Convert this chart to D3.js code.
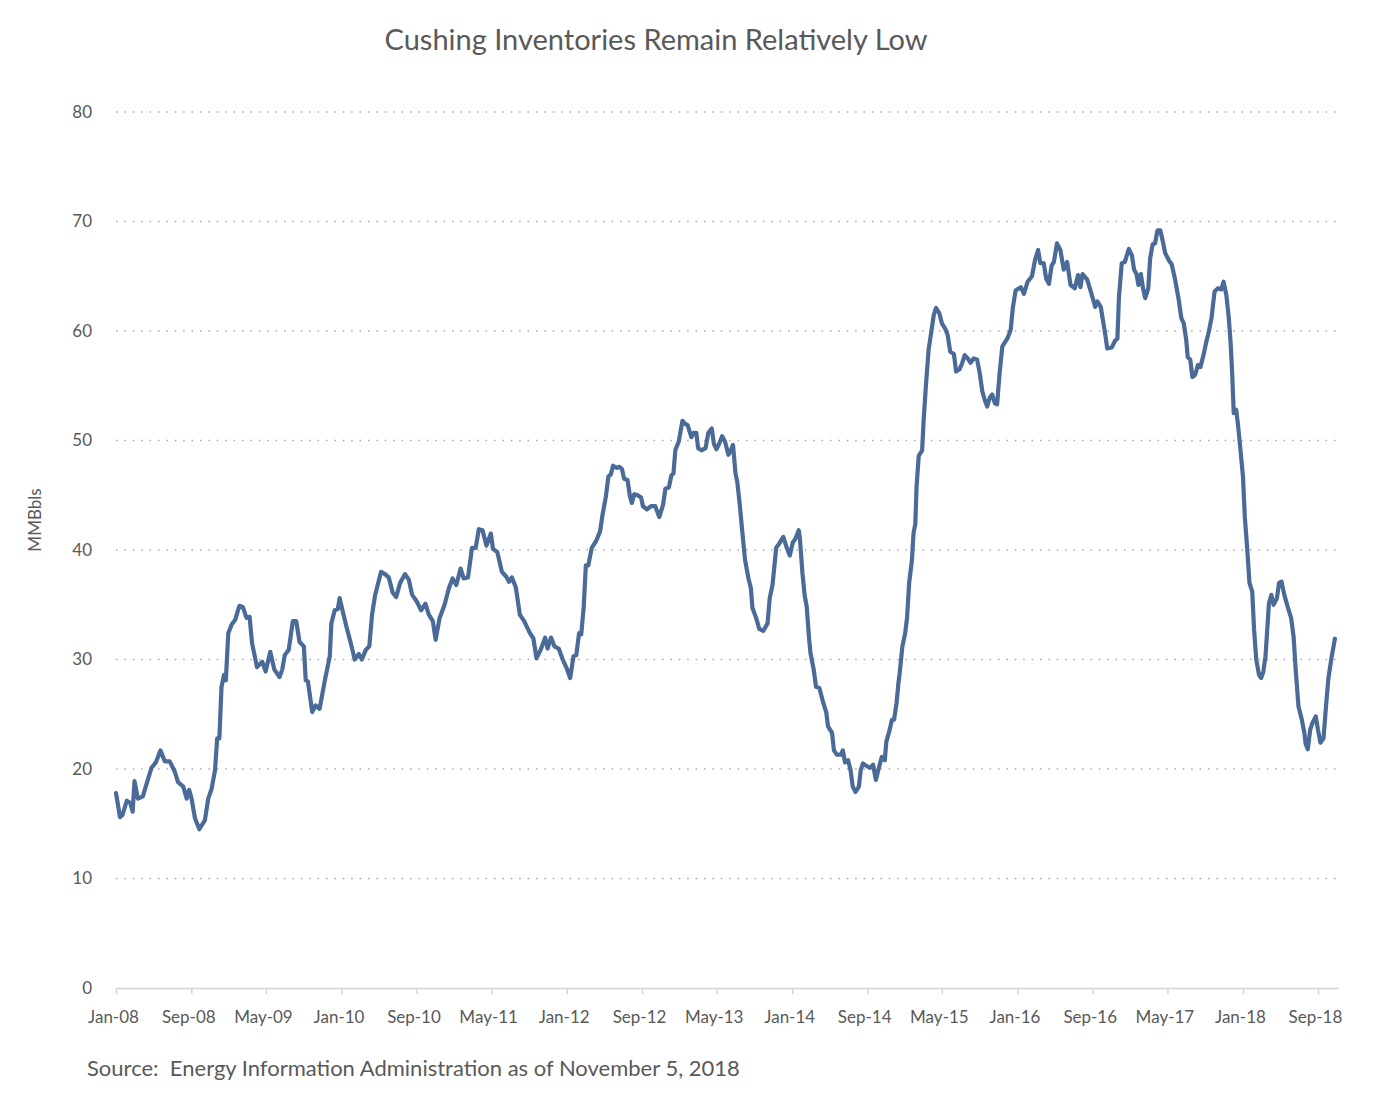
<!DOCTYPE html>
<html>
<head>
<meta charset="utf-8">
<title>Cushing Inventories</title>
<style>
  body { margin: 0; background: #fff; }
  text { font-family: Lato, "Open Sans", sans-serif; fill: #595959; }
  .grid line { stroke: #a8a8a8; stroke-width: 1.5; stroke-dasharray: 1.5,6.9; }
  .x-axis path, .x-axis line { stroke: #d4d4d4; stroke-width: 1.5; }
</style>
<script src="https://d3js.org/d3.v7.min.js"></script>
</head>
<body>
<div id="chart"></div>
<script>
// weekly Cushing crude stocks (MMBbls)
var dates = [
  "2008-01-01","2008-01-14","2008-01-22","2008-02-05","2008-02-16","2008-02-24","2008-03-01","2008-03-12",
  "2008-03-28","2008-04-14","2008-04-25","2008-05-09","2008-05-24","2008-06-07","2008-06-23","2008-07-09",
  "2008-07-20","2008-08-06","2008-08-17","2008-08-25","2008-09-02","2008-09-13","2008-09-27","2008-10-15",
  "2008-10-26","2008-11-06","2008-11-17","2008-11-24","2008-12-01","2008-12-08","2008-12-16","2008-12-22",
  "2008-12-30","2009-01-10","2009-01-21","2009-02-04","2009-02-15","2009-02-27","2009-03-09","2009-03-17",
  "2009-04-02","2009-04-19","2009-04-30","2009-05-15","2009-05-28","2009-06-14","2009-06-23","2009-07-01",
  "2009-07-14","2009-07-27","2009-08-07","2009-08-18","2009-09-01","2009-09-07","2009-09-14","2009-09-28",
  "2009-10-09","2009-10-22","2009-11-08","2009-11-24","2009-11-29","2009-12-10","2009-12-20","2009-12-26",
  "2010-01-04","2010-01-17","2010-01-30","2010-02-13","2010-02-26","2010-03-08","2010-03-21","2010-04-01",
  "2010-04-10","2010-04-20","2010-05-09","2010-05-22","2010-06-03","2010-06-16","2010-06-27","2010-07-10",
  "2010-07-26","2010-08-07","2010-08-18","2010-09-02","2010-09-16","2010-09-30","2010-10-11","2010-10-24",
  "2010-11-02","2010-11-15","2010-12-01","2010-12-15","2010-12-27","2011-01-08","2011-01-22","2011-02-01",
  "2011-02-15","2011-02-28","2011-03-12","2011-03-22","2011-04-03","2011-04-16","2011-04-30","2011-05-07",
  "2011-05-21","2011-06-05","2011-06-18","2011-06-28","2011-07-07","2011-07-20","2011-08-02","2011-08-16",
  "2011-09-02","2011-09-15","2011-09-25","2011-10-10","2011-10-23","2011-10-31","2011-11-11","2011-11-22",
  "2011-12-06","2011-12-19","2012-01-01","2012-01-12","2012-01-23","2012-02-01","2012-02-10","2012-02-17",
  "2012-02-25","2012-03-03","2012-03-11","2012-03-22","2012-04-05","2012-04-18","2012-04-26","2012-05-07",
  "2012-05-15","2012-05-23","2012-05-30","2012-06-11","2012-06-20","2012-06-28","2012-07-05","2012-07-16",
  "2012-07-24","2012-07-30","2012-08-07","2012-08-18","2012-08-29","2012-09-04","2012-09-17","2012-09-30",
  "2012-10-14","2012-10-27","2012-11-08","2012-11-16","2012-11-27","2012-12-05","2012-12-12","2012-12-18",
  "2012-12-29","2013-01-10","2013-01-20","2013-01-27","2013-02-08","2013-02-16","2013-02-24","2013-03-02",
  "2013-03-13","2013-03-26","2013-04-04","2013-04-15","2013-04-22","2013-04-30","2013-05-09","2013-05-19",
  "2013-05-28","2013-06-08","2013-06-16","2013-06-23","2013-07-01","2013-07-07","2013-07-15","2013-07-23",
  "2013-08-01","2013-08-12","2013-08-20","2013-08-25","2013-09-06","2013-09-16","2013-09-29","2013-10-13",
  "2013-10-20","2013-10-29","2013-11-10","2013-11-20","2013-12-03","2013-12-13","2013-12-24","2014-01-03",
  "2014-01-11","2014-01-22","2014-01-26","2014-02-03","2014-02-10","2014-02-17","2014-02-24","2014-03-01",
  "2014-03-12","2014-03-19","2014-03-30","2014-04-11","2014-04-21","2014-04-27","2014-05-10","2014-05-16",
  "2014-05-26","2014-06-07","2014-06-14","2014-06-21","2014-07-01","2014-07-09","2014-07-16","2014-07-25",
  "2014-08-05","2014-08-11","2014-08-18","2014-08-29","2014-09-10","2014-09-20","2014-09-29","2014-10-07",
  "2014-10-18","2014-10-28","2014-11-02","2014-11-13","2014-11-20","2014-11-27","2014-12-05","2014-12-11",
  "2014-12-15","2014-12-24","2015-01-02","2015-01-08","2015-01-15","2015-01-24","2015-01-29","2015-02-04",
  "2015-02-08","2015-02-15","2015-02-26","2015-03-03","2015-03-10","2015-03-19","2015-03-27","2015-04-05",
  "2015-04-12","2015-04-23","2015-05-01","2015-05-12","2015-05-20","2015-05-28","2015-06-09","2015-06-16",
  "2015-06-27","2015-07-05","2015-07-14","2015-07-24","2015-08-02","2015-08-12","2015-08-23","2015-09-01",
  "2015-09-09","2015-09-17","2015-09-25","2015-10-03","2015-10-11","2015-10-20","2015-10-27","2015-11-04",
  "2015-11-13","2015-11-29","2015-12-10","2015-12-17","2015-12-26","2016-01-12","2016-01-22","2016-02-03",
  "2016-02-17","2016-02-27","2016-03-08","2016-03-15","2016-03-26","2016-04-03","2016-04-12","2016-04-21",
  "2016-04-28","2016-05-08","2016-05-19","2016-05-30","2016-06-10","2016-06-21","2016-07-05","2016-07-15",
  "2016-07-23","2016-07-30","2016-08-14","2016-08-28","2016-09-09","2016-09-16","2016-09-27","2016-10-04",
  "2016-10-11","2016-10-18","2016-11-02","2016-11-12","2016-11-20","2016-11-25","2016-12-04","2016-12-14",
  "2016-12-27","2017-01-06","2017-01-13","2017-01-21","2017-01-27","2017-02-04","2017-02-11","2017-02-18",
  "2017-02-28","2017-03-06","2017-03-14","2017-03-22","2017-03-30","2017-04-08","2017-04-16","2017-04-24",
  "2017-05-07","2017-05-15","2017-05-26","2017-06-07","2017-06-15","2017-06-23","2017-07-01","2017-07-06",
  "2017-07-14","2017-07-21","2017-07-30","2017-08-08","2017-08-16","2017-08-26","2017-09-04","2017-09-12",
  "2017-09-21","2017-10-01","2017-10-12","2017-10-23","2017-10-30","2017-11-08","2017-11-16","2017-11-22",
  "2017-11-27","2017-12-02","2017-12-10","2017-12-16","2017-12-24","2018-01-01","2018-01-07","2018-01-15",
  "2018-01-22","2018-01-31","2018-02-06","2018-02-13","2018-02-22","2018-03-01","2018-03-08","2018-03-15",
  "2018-03-22","2018-03-26","2018-04-03","2018-04-10","2018-04-21","2018-04-28","2018-05-06","2018-05-15",
  "2018-05-26","2018-06-06","2018-06-14","2018-06-21","2018-06-30","2018-07-10","2018-07-19","2018-07-23",
  "2018-07-30","2018-08-07","2018-08-14","2018-08-25","2018-09-01","2018-09-09","2018-09-19","2018-09-27",
  "2018-10-05","2018-10-14","2018-10-26"
];
var inventory = [
  17.8,15.6,15.8,17.1,16.9,16.1,18.9,17.3,
  17.5,19.1,20.1,20.6,21.7,20.7,20.7,19.8,
  18.8,18.4,17.3,18.1,17.3,15.5,14.5,15.3,
  17.3,18.2,19.9,22.8,22.8,27.5,28.6,28.1,
  32.4,33.2,33.6,34.9,34.8,33.8,33.9,31.5,
  29.3,29.8,28.9,30.7,29.1,28.4,29.1,30.4,
  30.9,33.5,33.5,31.6,31.2,28.1,28.0,25.2,
  25.8,25.5,28.1,30.3,33.3,34.5,34.6,35.6,
  34.5,33.0,31.6,30.0,30.5,30.0,30.9,31.2,
  34.1,35.9,38.0,37.8,37.5,36.1,35.7,37.0,
  37.8,37.3,35.9,35.3,34.5,35.1,34.1,33.5,
  31.8,33.8,35.0,36.5,37.4,36.8,38.3,37.4,
  37.5,40.2,40.2,41.9,41.8,40.4,41.5,40.1,
  39.8,38.0,37.6,37.1,37.5,36.6,34.1,33.5,
  32.5,31.9,30.1,31.0,32.0,31.0,32.0,31.2,
  31.0,30.0,29.2,28.3,30.3,30.4,32.4,32.3,
  34.8,38.6,38.6,40.2,40.8,41.7,43.2,44.9,
  46.7,46.9,47.7,47.5,47.6,47.4,46.5,46.4,
  44.9,44.3,45.1,45.0,44.8,44.0,43.7,44.0,
  44.0,43.0,44.1,45.6,45.7,46.8,47.0,49.1,
  49.9,51.8,51.5,51.4,50.3,50.7,50.7,49.3,
  49.1,49.3,50.7,51.1,49.7,49.2,49.7,50.4,
  49.9,48.7,49.1,49.6,47.0,46.2,44.1,41.7,
  39.1,37.4,36.5,34.7,33.8,32.8,32.6,33.3,
  35.6,36.8,40.2,40.6,41.2,40.3,39.5,40.7,
  41.0,41.8,41.0,37.9,35.9,34.8,32.1,30.6,
  29.0,27.5,27.4,26.1,25.2,23.9,23.3,21.7,
  21.3,21.3,21.7,20.6,20.8,19.9,18.4,17.9,
  18.4,19.9,20.5,20.3,20.1,20.4,19.0,19.9,
  21.1,20.8,22.5,23.6,24.5,24.5,26.0,27.8,
  28.7,31.2,32.4,33.8,37.0,39.1,41.5,42.4,
  45.8,48.6,49.1,51.9,54.9,58.3,59.8,61.5,
  62.1,61.6,60.7,60.2,59.6,58.1,57.9,56.3,
  56.5,57.0,57.8,57.5,57.1,57.5,57.4,56.1,
  54.5,53.7,53.1,53.9,54.2,53.4,53.3,56.1,
  58.6,59.3,60.1,62.1,63.7,64.0,63.4,64.5,
  65.0,66.5,67.4,66.2,66.2,64.8,64.3,66.0,
  66.3,68.0,67.4,65.6,66.3,64.2,63.9,65.1,
  64.0,65.2,64.7,63.4,62.2,62.7,62.2,61.0,
  59.8,58.4,58.5,59.1,59.3,63.1,66.2,66.3,
  67.5,66.9,65.6,65.2,64.2,65.2,63.9,63.0,
  63.9,66.6,67.9,68.0,69.2,69.2,68.2,67.1,
  66.4,66.1,64.7,62.8,61.2,60.7,59.2,57.6,
  57.4,55.8,56.0,56.9,56.7,57.8,59.0,59.9,
  61.2,63.6,63.9,63.8,64.5,63.3,61.2,58.9,
  56.1,52.5,52.8,51.4,49.1,46.7,43.0,40.0,
  37.0,36.2,32.7,30.0,28.6,28.3,28.9,30.3,
  33.3,35.1,35.9,35.0,35.6,37.0,37.1,35.9,
  34.8,33.8,32.1,29.0,25.7,24.6,23.3,22.3,
  21.8,23.6,24.2,24.8,23.6,22.4,22.8,25.7,
  28.3,30.0,31.9
];

var yTicks = [0, 10, 20, 30, 40, 50, 60, 70, 80];
var xTickDates = ["2008-01-01","2008-09-01","2009-05-01","2010-01-01","2010-09-01","2011-05-01",
  "2012-01-01","2012-09-01","2013-05-01","2014-01-01","2014-09-01","2015-05-01",
  "2016-01-01","2016-09-01","2017-05-01","2018-01-01","2018-09-01"];
var xTickLabels = ["Jan-08","Sep-08","May-09","Jan-10","Sep-10","May-11","Jan-12","Sep-12",
  "May-13","Jan-14","Sep-14","May-15","Jan-16","Sep-16","May-17","Jan-18","Sep-18"];

var chartTitle = "Cushing Inventories Remain Relatively Low";
var yTitle = "MMBbls";
var sourceNote = "Source:  Energy Information Administration as of November 5, 2018";

var width = 1373, height = 1103;
var parse = d3.timeParse("%Y-%m-%d");

var x = d3.scaleTime()
    .domain([parse("2008-01-01"), parse("2018-11-05")])
    .range([116, 1338]);
var y = d3.scaleLinear()
    .domain([0, 80])
    .range([988, 112]);

var svg = d3.select("#chart").append("svg")
    .attr("width", width)
    .attr("height", height);

svg.append("rect").attr("width", width).attr("height", height).attr("fill", "#fff");

// dotted gridlines
svg.append("g").attr("class", "grid")
  .selectAll("line")
  .data(yTicks.filter(function(d){ return d > 0; }))
  .enter().append("line")
    .attr("x1", x.range()[0])
    .attr("x2", x.range()[1])
    .attr("y1", function(d){ return y(d); })
    .attr("y2", function(d){ return y(d); });

// y axis labels
var yAxis = svg.append("g")
    .attr("transform", "translate(" + x.range()[0] + ",0)")
    .call(d3.axisLeft(y).tickValues(yTicks).tickSize(0).tickPadding(24));
yAxis.select(".domain").remove();
yAxis.selectAll("text").style("font-size", "17px").style("font-family", "Lato, sans-serif").attr("fill", "#595959");

// x axis
var xAxis = svg.append("g")
    .attr("class", "x-axis")
    .attr("transform", "translate(0," + y(0) + ")")
    .call(d3.axisBottom(x)
      .tickValues(xTickDates.map(parse))
      .tickFormat(function(d, i){ return xTickLabels[i]; })
      .tickSizeInner(6).tickSizeOuter(0).tickPadding(17));
xAxis.selectAll("text")
    .attr("dx", -3)
    .style("font-size", "17px").style("font-family", "Lato, sans-serif").attr("fill", "#595959");

// the series
var series = dates.map(function(d, i){ return {date: parse(d), value: inventory[i]}; });

var line = d3.line()
    .x(function(d){ return x(d.date); })
    .y(function(d){ return y(d.value); });

svg.append("path")
    .datum(series)
    .attr("d", line)
    .attr("fill", "none")
    .attr("stroke", "#4a6b98")
    .attr("stroke-width", 4.2)
    .attr("stroke-linejoin", "round")
    .attr("stroke-linecap", "round");

// titles
svg.append("text")
    .attr("x", 656).attr("y", 50)
    .attr("text-anchor", "middle")
    .style("font-size", "29px")
    .text(chartTitle);

svg.append("text")
    .attr("transform", "translate(41,520) rotate(-90)")
    .attr("text-anchor", "middle")
    .style("font-size", "17px")
    .text(yTitle);

svg.append("text")
    .attr("x", 87).attr("y", 1076)
    .style("font-size", "22px")
    .style("white-space", "pre")
    .attr("fill", "#444")
    .text(sourceNote);
</script>
</body>
</html>
